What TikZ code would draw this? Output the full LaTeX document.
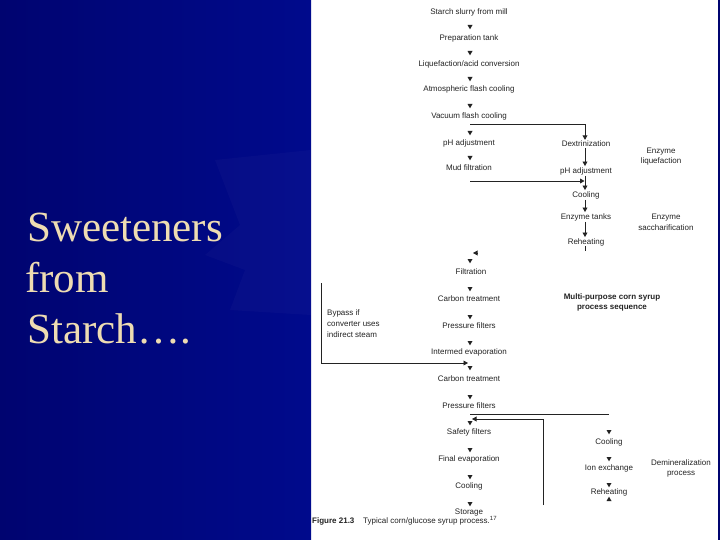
\documentclass[tikz,border=0pt]{standalone}
\usepackage{fontspec}
\setmainfont{Liberation Sans}
\newfontfamily\titlefont{Liberation Serif}
\usetikzlibrary{arrows.meta,calc}
\definecolor{slideblue}{RGB}{0,10,140}
\definecolor{slidedark}{RGB}{0,4,112}
\definecolor{titlecol}{RGB}{238,220,178}
\definecolor{ink}{RGB}{35,35,35}
\begin{document}
\begin{tikzpicture}[x=1pt,y=-1pt,
  lab/.style={font=\fontsize{8}{10}\selectfont, text=ink, inner sep=1pt, align=center},
  bold/.style={lab, font=\fontsize{8}{10}\selectfont\bfseries},
  ttl/.style={font=\titlefont\fontsize{43}{51}\selectfont, text=titlecol, anchor=base west, inner sep=0pt},
  arr/.style={draw=ink, line width=0.8pt, -{Triangle[length=4.5pt,width=4.8pt]}},
  ln/.style={draw=ink, line width=0.8pt},
  dtri/.pic={\fill[ink] (-2.5,-2) -- (2.5,-2) -- (0,2.3) -- cycle;},
  utri/.pic={\fill[ink] (-2.5,2) -- (2.5,2) -- (0,-2.3) -- cycle;},
]
\useasboundingbox (0,0) rectangle (720,540);
\fill[white] (0,0) rectangle (720,540);
% slide panel
\shade[left color=slidedark, right color=slideblue] (0,0) rectangle (311,540);
\fill[white, opacity=0.025] (215,160) -- (311,150) -- (311,315) -- (230,310) -- (245,270) -- (205,255) -- (240,225) -- cycle;
\fill[slidedark] (718,0) rectangle (720,540);
% title
\node[ttl] (t1) at (27,241) {Sweeteners};
\node[ttl] (t2) at (25,292) {from};
\node[ttl] (t3) at (27,343) {Starch….};

% main column
\node[lab] (s1) at (469,12) {Starch slurry from mill};
\node[lab] (s2) at (469,38) {Preparation tank};
\node[lab] (s3) at (469,64) {Liquefaction/acid conversion};
\node[lab] (s4) at (469,89) {Atmospheric flash cooling};
\node[lab] (s5) at (469,116) {Vacuum flash cooling};
\node[lab] (s6) at (469,143) {pH adjustment};
\node[lab] (s7) at (469,168) {Mud filtration};
\node[lab] (s8) at (471,272) {Filtration};
\node[lab] (s9) at (469,299) {Carbon treatment};
\node[lab] (s10) at (469,326) {Pressure filters};
\node[lab] (s11) at (469,352) {Intermed evaporation};
\node[lab] (s12) at (469,379) {Carbon treatment};
\node[lab] (s13) at (469,406) {Pressure filters};
\node[lab] (s14) at (469,432) {Safety filters};
\node[lab] (s15) at (469,459) {Final evaporation};
\node[lab] (s16) at (469,486) {Cooling};
\node[lab] (s17) at (469,513) {Storage};
\foreach \y in {27,53,79,106,133,158,261,289,317,343,368,397,423,450,477,504}
  \pic at (470,\y) {dtri};

% enzyme column
\node[lab] (d1) at (586,144) {Dextrinization};
\node[lab] (d2) at (586,171) {pH adjustment};
\node[lab] (d3) at (586,195) {Cooling};
\node[lab] (d4) at (586,217) {Enzyme tanks};
\node[lab] (d5) at (586,242) {Reheating};
\node[lab] (e1) at (661,157) {Enzyme\\liquefaction};
\node[lab, font=\fontsize{8}{11}\selectfont] (e2) at (666,222) {Enzyme\\saccharification};

\coordinate (j1) at (470,124);
\coordinate (j2) at (470,181);
\coordinate (j3) at (473,253);
\draw[arr] (j1) -| ([xshift=-1pt]d1.north);
\draw[arr] ([xshift=-1pt]d1.south) -- ([xshift=-1pt]d2.north);
\draw[arr] ([xshift=-1pt]d2.south) -- ([xshift=-1pt]d3.north);
\draw[arr] (j2) -- ($(j2 -| d2)+(-1.5,0)$);
\draw[arr] ([xshift=-1pt]d3.south) -- ([xshift=-1pt]d4.north);
\draw[arr] ([xshift=-1pt]d4.south) -- ([xshift=-1pt]d5.north);
\draw[ln] ([xshift=-1pt,yshift=1pt]d5.south) -- ++(0,5);
\draw[arr] ($(j3)+(4.5,0)$) -- (j3);

% notes
\node[bold] (m1) at (612,302) {Multi-purpose corn syrup\\process sequence};
\node[lab, align=left, anchor=west, font=\fontsize{8}{11}\selectfont] (bp) at (326,324) {Bypass if\\converter uses\\indirect steam};
\coordinate (b1) at (321,283);
\coordinate (b2) at (321,363);
\coordinate (b3) at (468,363);
\draw[arr] (b1) -- (b2) -- (b3);

% demineralization
\coordinate (p1) at (470,414);
\coordinate (p2) at (609,414);
\draw[ln] (p1) -- (p2);
\coordinate (q1) at (543,505);
\coordinate (q2) at (543,419);
\coordinate (q3) at (472,419);
\draw[arr] (q1) -- (q2) -- (q3);
\node[lab] (c1) at (609,442) {Cooling};
\node[lab] (c2) at (609,468) {Ion exchange};
\node[lab] (c3) at (609,492) {Reheating};
\foreach \y in {432,459,485}
  \pic at (609,\y) {dtri};
\pic at (609,499) {utri};
\node[lab] (dm) at (681,468) {Demineralization\\process};

% caption
\node[lab, anchor=west, inner sep=0pt] (cap) at (312,521) {{\bfseries Figure 21.3}\hspace{1.1em}Typical corn/glucose syrup process.\textsuperscript{17}};
\end{tikzpicture}
\end{document}
